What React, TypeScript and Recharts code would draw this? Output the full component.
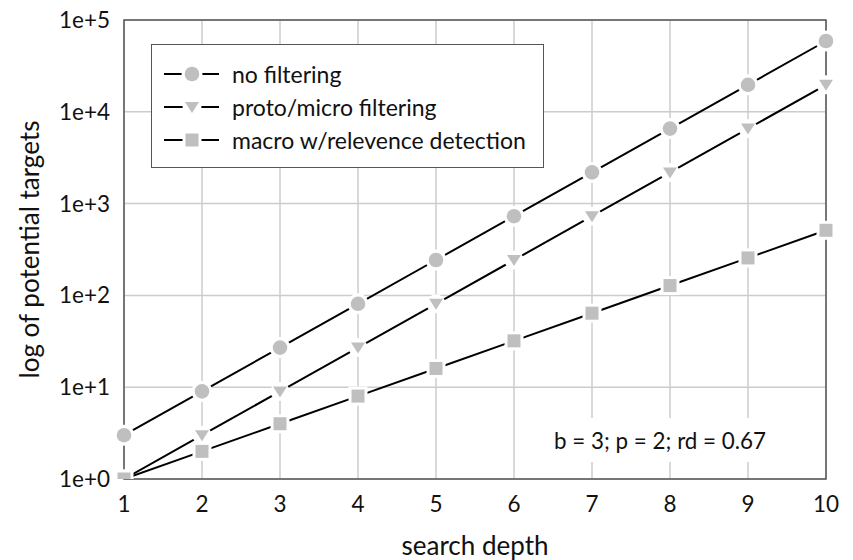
import React from "react";
import { LineChart, Line, XAxis, YAxis, CartesianGrid, ReferenceArea } from "recharts";

const depths = [1, 2, 3, 4, 5, 6, 7, 8, 9, 10];
const noFiltering = [3, 9, 27, 81, 243, 729, 2187, 6561, 19683, 59049];
const protoMicro = [1, 3, 9, 27, 81, 243, 729, 2187, 6561, 19683];
const macroRelevance = [1, 2, 4, 8, 16, 32, 64, 128, 256, 512];
const yTicks = [1, 10, 100, 1000, 10000, 100000];

const seriesNames = ["no filtering", "proto/micro filtering", "macro w/relevence detection"];
const note = "b = 3; p = 2; rd = 0.67";

const FONT = "Lato, 'Open Sans', sans-serif";
const GREY = "#bfbfbf";

const data = depths.map((d, i) => ({
  depth: d,
  none: noFiltering[i],
  proto: protoMicro[i],
  macro: macroRelevance[i],
}));

type Shape = "circle" | "triangle" | "square";

function Marker({ cx, cy, shape }: { cx: number; cy: number; shape: Shape }) {
  if (shape === "circle") {
    return (
      <g>
        <circle cx={cx} cy={cy} r={10.5} fill="#fff" />
        <circle cx={cx} cy={cy} r={7.3} fill={GREY} />
      </g>
    );
  }
  if (shape === "triangle") {
    return (
      <g>
        <circle cx={cx} cy={cy} r={9.5} fill="#fff" />
        <path d={`M${cx - 7},${cy - 5} L${cx + 7},${cy - 5} L${cx},${cy + 6} Z`} fill={GREY} />
      </g>
    );
  }
  return (
    <g>
      <rect x={cx - 9.5} y={cy - 9.5} width={19} height={19} fill="#fff" />
      <rect x={cx - 6.5} y={cy - 6.5} width={13} height={13} fill={GREY} />
    </g>
  );
}

const makeDot = (shape: Shape) => (props: any) => {
  const { cx, cy, index } = props;
  if (cx == null || cy == null) return <g key={`e-${index}`} />;
  return <Marker key={`${shape}-${index}`} cx={cx} cy={cy} shape={shape} />;
};

const shapes: Shape[] = ["circle", "triangle", "square"];

function LegendBox() {
  return (
    <div
      style={{
        position: "absolute",
        left: 151,
        top: 44,
        width: 393,
        height: 124,
        border: "1.5px solid #555",
        background: "#fff",
        boxSizing: "border-box",
        paddingTop: 12,
      }}
    >
      {seriesNames.map((name, i) => (
        <div key={name} style={{ display: "flex", alignItems: "center", height: 33 }}>
          <svg width={70} height={24} style={{ marginLeft: 10 }}>
            <line x1={2} y1={12} x2={57} y2={12} stroke="#000" strokeWidth={2} />
            <Marker cx={30} cy={12} shape={shapes[i]} />
          </svg>
          <span style={{ fontFamily: FONT, fontSize: 23, color: "#111", whiteSpace: "nowrap" }}>{name}</span>
        </div>
      ))}
    </div>
  );
}

export default function App() {
  return (
    <div style={{ position: "fixed", left: 0, top: 0, width: 853, height: 560, background: "#fff" }}>
      <LineChart width={853} height={560} data={data} margin={{ top: 20, right: 27, bottom: 0, left: 0 }}>
        <CartesianGrid stroke="#cccccc" strokeWidth={1.5} />
        <XAxis
          dataKey="depth"
          type="number"
          domain={[1, 10]}
          ticks={depths}
          height={81}
          tickLine={false}
          axisLine={false}
          tickSize={0}
          tickMargin={17}
          tick={{ fontFamily: FONT, fontSize: 22.5, fill: "#111" }}
          label={{
            content: (p: any) => (
              <text
                x={p.viewBox.x + p.viewBox.width / 2}
                y={p.viewBox.y + 76}
                textAnchor="middle"
                fontFamily={FONT}
                fontSize={26}
                fill="#111"
              >
                search depth
              </text>
            ),
          }}
        />
        <YAxis
          type="number"
          scale="log"
          domain={[1, 100000]}
          ticks={yTicks}
          width={124}
          allowDataOverflow
          tickLine={false}
          axisLine={false}
          tickSize={0}
          tickMargin={14}
          tick={{ fontFamily: FONT, fontSize: 22.5, fill: "#111" }}
          tickFormatter={(v: number) => `1e+${Math.round(Math.log10(v))}`}
          label={{
            content: (p: any) => {
              const x = p.viewBox.x + 28.5;
              const y = p.viewBox.y + p.viewBox.height / 2;
              return (
                <text
                  x={x}
                  y={y}
                  transform={`rotate(-90, ${x}, ${y})`}
                  textAnchor="middle"
                  dominantBaseline="central"
                  fontFamily={FONT}
                  fontSize={26}
                  fill="#111"
                >
                  log of potential targets
                </text>
              );
            },
          }}
        />
        <ReferenceArea x1={1} x2={10} y1={1} y2={100000} fill="none" stroke="#555" strokeWidth={1.5} ifOverflow="visible" />
        <Line dataKey="none" stroke="#000" strokeWidth={2} dot={makeDot("circle")} isAnimationActive={false} />
        <Line dataKey="proto" stroke="#000" strokeWidth={2} dot={makeDot("triangle")} isAnimationActive={false} />
        <Line dataKey="macro" stroke="#000" strokeWidth={2} dot={makeDot("square")} isAnimationActive={false} />
      </LineChart>
      <LegendBox />
      <div
        style={{
          position: "absolute",
          left: 545,
          top: 418,
          width: 276,
          height: 44,
          background: "#fff",
          display: "flex",
          alignItems: "center",
          paddingLeft: 9,
          boxSizing: "border-box",
          fontFamily: FONT,
          fontSize: 22.4,
          color: "#111",
          whiteSpace: "nowrap",
        }}
      >
        {note}
      </div>
    </div>
  );
}
